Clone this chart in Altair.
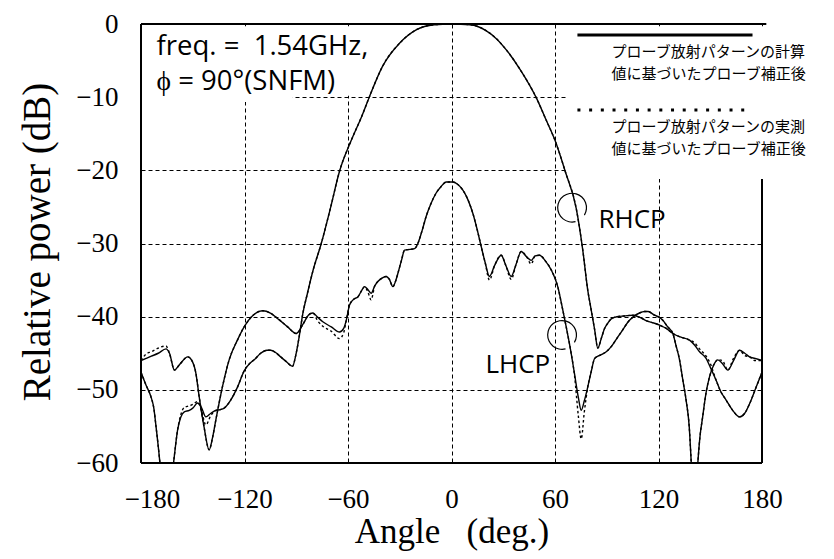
import altair as alt
import pandas as pd

# ---------------- data ----------------
x_ticks = [-180, -120, -60, 0, 60, 120, 180]
y_ticks = [0, -10, -20, -30, -40, -50, -60]

rhcp_angle = [-180, -177, -174.3, -172.5, -171.3, -169.4, -167.5, -165.3, -163, -160.7,
              -158.8, -156.9, -154.9, -152, -150, -147.2, -145, -142.4, -139.5, -136.6,
              -134, -131.8, -128, -124, -120.2, -117, -114.4, -110.6, -107, -104.8,
              -102, -99, -95.5, -92.2, -90.3, -88, -86.2, -83.5, -80.4, -75.5,
              -70, -65, -58.1, -52, -47.5, -40, -30, -20.5, -10, 0,
              10.8, 20, 26, 32, 40, 49.4, 55, 60, 66, 72.3,
              76.1, 79, 81, 83, 84.8, 86.8, 88.6, 90.6, 92.6, 96,
              100.3, 105.1, 110, 113.5, 117.7, 121, 124.5, 128.3, 133, 138,
              141, 143.8, 147.6, 150, 153.4, 156, 159.2, 163, 167, 170,
              172.8, 176, 180]
rhcp_calc = [-47.6, -49.4, -50.9, -52.6, -55.0, -59.1, -64.0, -68.0, -64.0, -59.1,
             -55.5, -53.7, -53.0, -52.8, -52.5, -51.8, -52.4, -53.7, -53.2, -52.8,
             -52.7, -52.5, -51.4, -49.6, -47.4, -46.4, -45.9, -45.0, -44.6, -44.6,
             -44.9, -45.5, -46.2, -46.8, -45.3, -42.3, -39.6, -36.8, -33.8, -30.0,
             -25.0, -20.2, -15.9, -12.6, -9.9, -5.8, -2.6, -0.8, -0.1, 0.0,
             -0.1, -0.9, -2.0, -3.6, -6.3, -10.2, -13.2, -15.9, -20.2, -25.2,
             -30.9, -36.4, -39.1, -41.8, -44.3, -43.0, -41.7, -40.9, -40.3, -40.0,
             -39.9, -39.8, -40.2, -40.6, -40.9, -41.2, -41.6, -42.3, -42.8, -43.2,
             -43.9, -44.8, -45.7, -46.9, -48.7, -50.2, -51.4, -52.8, -53.7, -53.2,
             -51.9, -50.0, -47.6]
rhcp_meas = [-47.6, -49.4, -50.9, -52.6, -55.0, -59.1, -64.0, -68.0, -64.0, -59.1,
             -55.5, -53.4, -52.4, -52.2, -52.0, -51.6, -52.8, -54.8, -53.5, -52.8,
             -52.7, -52.5, -51.4, -49.6, -47.4, -46.4, -45.9, -45.0, -44.6, -44.6,
             -44.9, -45.5, -46.2, -46.8, -45.3, -42.3, -39.6, -36.8, -33.8, -30.0,
             -25.0, -20.2, -15.9, -12.6, -9.9, -5.8, -2.6, -0.8, -0.1, 0.0,
             -0.1, -0.9, -2.0, -3.6, -6.3, -10.2, -13.2, -15.9, -20.2, -25.2,
             -30.9, -36.4, -39.1, -41.8, -44.3, -43.0, -41.7, -40.9, -40.3, -40.0,
             -39.9, -39.8, -40.2, -40.6, -40.9, -41.2, -41.6, -42.3, -42.8, -43.2,
             -43.6, -44.4, -45.4, -46.4, -48.7, -50.2, -51.4, -52.8, -53.7, -53.2,
             -51.9, -50.0, -47.6]

lhcp_angle = [-180, -177, -174, -170, -165.5, -163.5, -160.6, -157.5, -152.9, -150.5,
              -148.2, -146.3, -143.5, -140.5, -138.5, -136.6, -132.8, -128.9, -124.1, -120.2,
              -115, -109.4, -105, -100, -95, -90, -86, -83, -80.4, -77.5,
              -74.6, -69.7, -64.9, -62.5, -61, -59.1, -56.5, -54.3, -52, -50.4,
              -48.5, -46.6, -44.5, -42.7, -40, -37.9, -36, -34, -32.5, -31.1,
              -29, -27.2, -24, -21.4, -19.5, -17, -14.7, -12, -8.9, -6,
              -3.1, 0.8, 3.5, 6.6, 9.5, 12.4, 15, 17.2, 19.5, 22,
              25, 28.8, 31.5, 34.6, 37.5, 40.4, 43.5, 46.2, 48.5, 51,
              54.5, 57.8, 61.6, 64, 66.5, 69, 71.3, 73.5, 75.2, 77,
              79, 81, 83, 86.8, 89.7, 92.6, 95.5, 98.4, 103.2, 106.1,
              109, 111.9, 114, 117.7, 120.6, 122.5, 125, 128.3, 130, 132.2,
              134, 136, 137.8, 139, 140.5, 142, 142.8, 144, 145.6, 147.5,
              149.6, 152, 154.4, 157, 160.2, 163.5, 167, 170, 172.8, 176,
              180]
lhcp_calc = [-46.0, -45.7, -45.4, -45.0, -44.4, -45.0, -47.3, -46.5, -45.5, -46.0,
             -47.7, -50.9, -55.0, -58.2, -56.5, -54.1, -49.6, -45.9, -43.2, -41.4,
             -39.8, -39.2, -39.5, -40.4, -41.4, -42.3, -41.0, -39.8, -39.5, -40.1,
             -40.7, -41.4, -42.1, -41.6, -40.5, -38.4, -37.6, -37.3, -36.4, -35.9,
             -36.3, -36.8, -35.8, -35.2, -34.7, -34.5, -34.9, -35.9, -35.2, -34.1,
             -32.3, -30.9, -30.8, -30.7, -30.0, -28.2, -26.3, -24.6, -23.1, -22.2,
             -21.6, -21.6, -21.9, -22.7, -24.0, -25.9, -28.2, -30.4, -32.6, -34.5,
             -33.0, -31.6, -33.0, -34.5, -32.8, -31.1, -31.8, -32.3, -31.7, -31.6,
             -32.4, -33.6, -35.9, -38.5, -41.4, -44.5, -47.8, -51.0, -52.8, -51.5,
             -49.6, -47.5, -45.7, -45.2, -44.8, -44.1, -43.1, -42.1, -40.5, -39.9,
             -39.5, -39.3, -39.3, -39.8, -40.1, -40.5, -41.3, -42.3, -43.8, -45.9,
             -48.5, -51.4, -55.0, -60.0, -67.0, -63.0, -60.0, -56.5, -53.7, -50.5,
             -48.2, -46.6, -45.9, -46.4, -47.3, -46.0, -44.6, -45.0, -45.5, -45.7,
             -46.0]
lhcp_meas = [-46.0, -45.1, -44.8, -44.3, -44.0, -45.0, -47.3, -46.5, -45.5, -46.0,
             -47.7, -50.9, -55.0, -58.2, -56.5, -54.1, -49.6, -45.9, -43.2, -41.4,
             -39.8, -39.2, -39.5, -40.4, -41.4, -42.3, -41.0, -39.8, -39.5, -40.6,
             -41.3, -42.0, -43.0, -42.2, -40.5, -38.4, -37.6, -37.3, -36.4, -35.9,
             -36.6, -37.7, -35.8, -35.2, -34.7, -34.5, -34.9, -35.9, -35.2, -34.1,
             -32.3, -30.9, -30.8, -30.7, -30.0, -28.2, -26.3, -24.6, -23.1, -22.2,
             -21.6, -21.6, -21.9, -22.7, -24.0, -25.9, -28.2, -30.4, -32.6, -35.0,
             -33.0, -31.6, -33.0, -34.9, -32.8, -31.1, -31.8, -32.8, -31.7, -31.6,
             -32.4, -33.6, -35.9, -38.5, -41.4, -44.5, -48.0, -53.5, -56.7, -53.0,
             -49.6, -47.5, -45.7, -45.2, -44.8, -44.1, -43.1, -42.1, -40.5, -39.9,
             -39.5, -39.3, -39.3, -39.8, -40.1, -40.5, -41.3, -42.3, -43.8, -45.9,
             -48.5, -51.4, -55.0, -60.0, -67.0, -63.0, -60.0, -56.5, -53.7, -50.5,
             -48.2, -46.6, -45.9, -46.0, -47.3, -45.7, -44.6, -45.3, -45.5, -46.0,
             -46.0]

info_text = ["freq. = \u00a01.54GHz,", "\u03d5 = 90°(SNFM)"]
info_x = [-171, -171]
info_y = [-4.24, -9.0]

pol_text = ["RHCP", "LHCP"]
pol_x = [85.2, 19.7]
pol_y = [-27.9, -47.7]

loop_x = [69.9, 64.1]
loop_y = [-25.1, -42.5]

legend_text = ["プローブ放射パターンの計算", "値に基づいたプローブ補正後",
               "プローブ放射パターンの実測", "値に基づいたプローブ補正後"]
legend_text_x = [92.8, 92.8, 92.8, 92.8]
legend_text_y = [-3.8, -6.8, -14.05, -17.05]
legend_line_x = [73, 174.5]
legend_solid_y = -1.5
legend_dot_y = -11.75

# frame pieces (the right side is open next to the legend)
frame_x = [-180, -180, -180, 180]
frame_x2 = [182.5, -180, 180, 180]
frame_y = [0, -60, -60, -60]
frame_y2 = [0, 0, -60, -21.2]

# white masks where the original grid is not drawn
mask_x = [-181, -92, 67]
mask_x2 = [-92, -2, 200]
mask_y = [-0.3, -0.3, -0.3]
mask_y2 = [-10.65, -9.8, -21.2]

# ---------------- chart ----------------
SERIF = "Liberation Serif"
SANS = "Open Sans"
CJK = "Noto Sans CJK JP"

xs = alt.Scale(domain=[-180, 180], nice=False, zero=False)
ys = alt.Scale(domain=[-60, 0], nice=False, zero=False)

x_axis = alt.Axis(
    values=x_ticks, title="Angle\u00a0\u00a0\u00a0(deg.)",
    titleFont=SERIF, titleFontSize=35, titleFontWeight="normal", titleColor="black",
    titleY=79, titleBaseline="alphabetic",
    labelFont=SERIF, labelFontSize=27, labelColor="black", labelPadding=44,
    labelBaseline="alphabetic", labelFlush=False,
    labelOffset={"condition": {"test": "datum.value == -180", "value": 11}, "value": 0},
    ticks=False, tickSize=0, domain=False,
    grid=True, gridColor="black", gridDash=[4, 3], gridWidth=1, gridOpacity=1,
)
y_axis = alt.Axis(
    values=y_ticks, title="Relative power (dB)",
    titleFont=SERIF, titleFontSize=39, titleFontWeight="normal", titleColor="black",
    titleX=-92, titleY=217.5, titleBaseline="alphabetic", titleAngle=270,
    labelFont=SERIF, labelFontSize=27, labelColor="black", labelPadding=23,
    labelFlush=False,
    ticks=False, tickSize=0, domain=False,
    grid=True, gridColor="black", gridDash=[4, 3], gridWidth=1, gridOpacity=1,
)


def X(field):
    return alt.X(field, type="quantitative", scale=xs, axis=x_axis)


def Y(field):
    return alt.Y(field, type="quantitative", scale=ys, axis=y_axis)


masks = alt.Chart(pd.DataFrame({"x": mask_x, "x2": mask_x2, "y": mask_y, "y2": mask_y2})).mark_rect(
    color="white").encode(x=X("x"), x2="x2", y=Y("y"), y2="y2")

rc = pd.DataFrame({"angle": rhcp_angle, "db": rhcp_calc})
rm = pd.DataFrame({"angle": rhcp_angle, "db": rhcp_meas})
lc = pd.DataFrame({"angle": lhcp_angle, "db": lhcp_calc})
lm = pd.DataFrame({"angle": lhcp_angle, "db": lhcp_meas})


def curve(df, dash):
    kw = dict(color="black", strokeWidth=1.4, clip=True, interpolate="monotone")
    if dash:
        kw["strokeDash"] = [2.5, 2.5]
    return alt.Chart(df).mark_line(**kw).encode(x=X("angle"), y=Y("db"), order="angle:Q")


frame = alt.Chart(pd.DataFrame({"x": frame_x, "x2": frame_x2, "y": frame_y, "y2": frame_y2})).mark_rule(
    color="black", strokeWidth=2).encode(x=X("x"), x2="x2", y=Y("y"), y2="y2")

leg_solid = alt.Chart(pd.DataFrame({"x": [legend_line_x[0]], "x2": [legend_line_x[1]],
                                    "y": [legend_solid_y]})).mark_rule(
    color="black", strokeWidth=3).encode(x=X("x"), x2="x2", y=Y("y"))
leg_dot = alt.Chart(pd.DataFrame({"x": [legend_line_x[0]], "x2": [legend_line_x[1]],
                                  "y": [legend_dot_y]})).mark_rule(
    color="black", strokeWidth=3, strokeDash=[3, 8.7]).encode(x=X("x"), x2="x2", y=Y("y"))

leg_txt = alt.Chart(pd.DataFrame({"x": legend_text_x, "y": legend_text_y, "t": legend_text})).mark_text(
    align="left", baseline="middle", font=CJK, fontSize=15, color="black").encode(
    x=X("x"), y=Y("y"), text="t:N")

info = alt.Chart(pd.DataFrame({"x": info_x, "y": info_y, "t": info_text})).mark_text(
    align="left", baseline="alphabetic", font=SANS, fontSize=27.5, color="black").encode(
    x=X("x"), y=Y("y"), text="t:N")

pol = alt.Chart(pd.DataFrame({"x": pol_x, "y": pol_y, "t": pol_text})).mark_text(
    align="left", baseline="alphabetic", font=SANS, fontSize=26, color="black").encode(
    x=X("x"), y=Y("y"), text="t:N")

loops = alt.Chart(pd.DataFrame({"x": loop_x, "y": loop_y})).mark_arc(
    radius=15, radius2=13.8, theta=2.9, theta2=8.4, color="black").encode(
    x=X("x"), y=Y("y"))

chart = alt.layer(
    masks,
    curve(rm, True), curve(lm, True),
    curve(rc, False), curve(lc, False),
    frame, leg_solid, leg_dot, leg_txt, info, pol, loops,
).properties(
    width=621, height=439,
    autosize=alt.AutoSizeParams(type="none"),
    padding={"left": 133, "top": 16, "right": 64, "bottom": 88},
    background="white",
).configure_view(stroke=None)

chart.save("out.html", embed_options={"renderer": "svg", "actions": False})
